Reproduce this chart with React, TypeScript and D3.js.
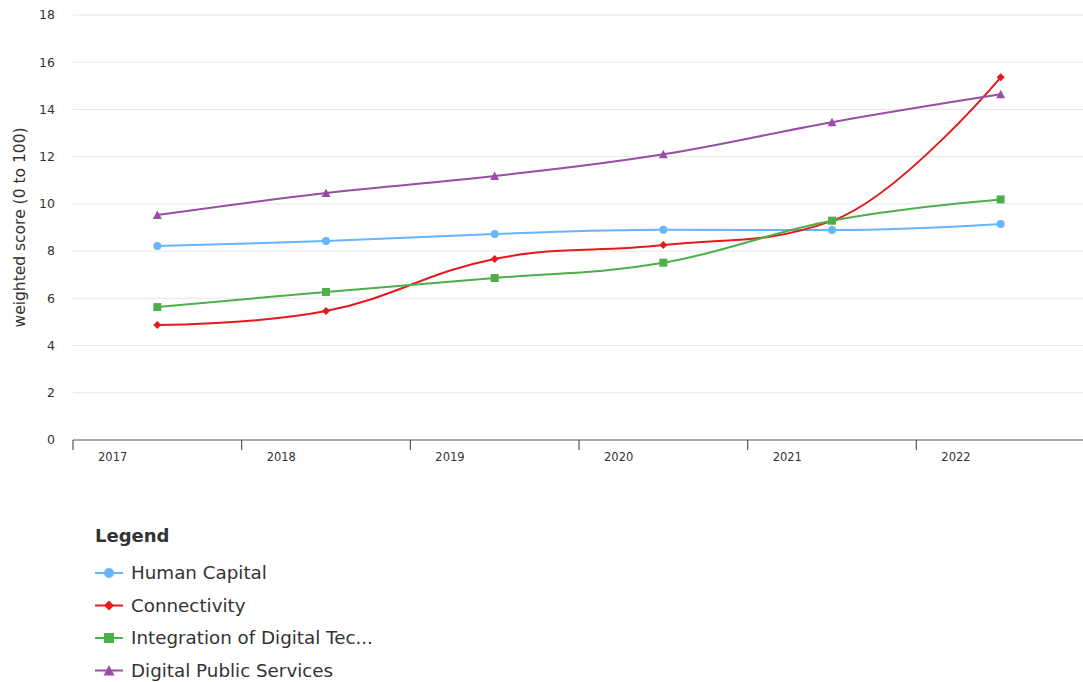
import React from "react";
import * as d3 from "d3";

const years = ["2017", "2018", "2019", "2020", "2021", "2022"];
const yTicks = [0, 2, 4, 6, 8, 10, 12, 14, 16, 18];
const humanCapital = [8.22, 8.43, 8.72, 8.9, 8.89, 9.15];
const connectivity = [4.87, 5.46, 7.67, 8.26, 9.28, 15.36];
const integration = [5.63, 6.27, 6.86, 7.51, 9.29, 10.19];
const publicServices = [9.53, 10.46, 11.18, 12.1, 13.46, 14.64];
const seriesNames = ["Human Capital", "Connectivity", "Integration of Digital Tec...", "Digital Public Services"];

const colors = ["#66b5ff", "#e41a1c", "#4daf4a", "#984ea3"];
const symbols = ["circle", "diamond", "square", "triangle"];
const allSeries = [humanCapital, connectivity, integration, publicServices];

const W = 1083, H = 682;
const left = 73, right = 1085, top = 15, bottom = 440;

function splinePath(pts: [number, number][]) {
  const smoothing = 1.5, denom = 2.5;
  const ctrl = pts.map((p, i) => {
    if (i === 0 || i === pts.length - 1) return null;
    const [lx, ly] = pts[i - 1];
    const [x, y] = p;
    const [nx, ny] = pts[i + 1];
    let lcx = (smoothing * x + lx) / denom;
    let lcy = (smoothing * y + ly) / denom;
    const rcx = (smoothing * x + nx) / denom;
    let rcy = (smoothing * y + ny) / denom;
    const corr = ((rcy - lcy) * (rcx - x)) / (rcx - lcx) + y - rcy;
    lcy += corr;
    rcy += corr;
    if (lcy > ly && lcy > y) { lcy = Math.max(ly, y); rcy = 2 * y - lcy; }
    else if (lcy < ly && lcy < y) { lcy = Math.min(ly, y); rcy = 2 * y - lcy; }
    if (rcy > ny && rcy > y) { rcy = Math.max(ny, y); lcy = 2 * y - rcy; }
    else if (rcy < ny && rcy < y) { rcy = Math.min(ny, y); lcy = 2 * y - rcy; }
    return { lcx, lcy, rcx, rcy };
  });
  const p = d3.path();
  p.moveTo(pts[0][0], pts[0][1]);
  for (let i = 1; i < pts.length; i++) {
    const prev = ctrl[i - 1];
    const cur = ctrl[i];
    const c1x = prev ? prev.rcx : pts[i - 1][0];
    const c1y = prev ? prev.rcy : pts[i - 1][1];
    const c2x = cur ? cur.lcx : pts[i][0];
    const c2y = cur ? cur.lcy : pts[i][1];
    p.bezierCurveTo(c1x, c1y, c2x, c2y, pts[i][0], pts[i][1]);
  }
  return p.toString();
}

function Marker({ kind, x, y, color, s = 4 }: { kind: string; x: number; y: number; color: string; s?: number }) {
  if (kind === "circle") return <circle cx={x} cy={y} r={s} fill={color} />;
  if (kind === "square") return <rect x={x - s} y={y - s} width={2 * s} height={2 * s} fill={color} />;
  if (kind === "diamond")
    return <path d={`M${x},${y - s}L${x + s},${y}L${x},${y + s}L${x - s},${y}Z`} fill={color} />;
  return <path d={`M${x},${y - s - 0.5}L${x + s + 0.5},${y + s}L${x - s - 0.5},${y + s}Z`} fill={color} />;
}

export default function App() {
  const x = d3.scaleBand<string>().domain(years).range([left, right]);
  const y = d3.scaleLinear().domain([0, 18]).range([bottom, top]);
  const cx = (yr: string) => (x(yr) as number) + x.bandwidth() / 2;
  const font = "'DejaVu Sans', 'Open Sans', sans-serif";

  return (
    <svg width={W} height={H} style={{ position: "absolute", left: 0, top: 0, fontFamily: font }}>
      <rect width={W} height={H} fill="#fff" />
      {yTicks.map((t) => (
        <g key={t}>
          {t > 0 && <line x1={left} x2={W} y1={y(t)} y2={y(t)} stroke="#e6e6e6" strokeWidth={1} />}
          <text x={55} y={y(t)} dy="0.35em" textAnchor="end" fontSize={12.5} fill="#333">
            {t}
          </text>
        </g>
      ))}
      <text
        transform={`translate(20,${(top + bottom) / 2}) rotate(-90)`}
        textAnchor="middle"
        fontSize={15.5}
        fill="#333"
        dy="0.35em"
      >
        weighted score (0 to 100)
      </text>
      <line x1={left} x2={W} y1={bottom} y2={bottom} stroke="#555" strokeWidth={1.2} />
      {years.map((yr) => (
        <g key={yr}>
          <line x1={x(yr)} x2={x(yr)} y1={bottom} y2={bottom + 10} stroke="#555" strokeWidth={1.2} />
          <text x={(x(yr) as number) + 25} y={bottom + 17} dy="0.35em" fontSize={11.5} fill="#333">
            {yr}
          </text>
        </g>
      ))}
      {allSeries.map((vals, si) => {
        const pts: [number, number][] = vals.map((v, i) => [cx(years[i]), y(v)]);
        return (
          <g key={si}>
            <path d={splinePath(pts)} fill="none" stroke={colors[si]} strokeWidth={2} />
            {pts.map((p, i) => (
              <Marker key={i} kind={symbols[si]} x={p[0]} y={p[1]} color={colors[si]} />
            ))}
          </g>
        );
      })}
      <text x={95} y={536} dy="0.35em" fontSize={18} fontWeight={600} fill="#333">
        Legend
      </text>
      {seriesNames.map((n, i) => {
        const ly = 573 + i * 32.5;
        return (
          <g key={n}>
            <line x1={95} x2={123} y1={ly} y2={ly} stroke={colors[i]} strokeWidth={2} />
            <Marker kind={symbols[i]} x={109} y={ly} color={colors[i]} s={5} />
            <text x={131} y={ly} dy="0.35em" fontSize={18.3} fill="#333">
              {n}
            </text>
          </g>
        );
      })}
    </svg>
  );
}
